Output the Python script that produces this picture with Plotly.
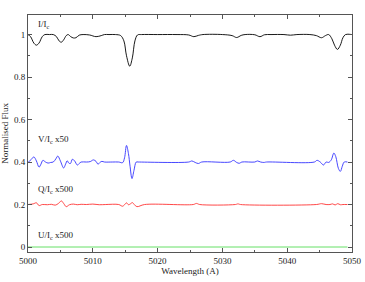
import plotly.graph_objects as go

# Stokes I / Ic
wl_i = [5000.0, 5000.4, 5000.9, 5001.3, 5001.7, 5002.2, 5002.6, 5003.3, 5003.9, 5004.4,
        5004.8, 5005.15, 5005.5, 5005.9, 5006.2, 5006.6, 5007.0, 5007.4, 5007.9, 5008.5,
        5009.5, 5010.5, 5011.3, 5011.8, 5012.5, 5013.5, 5014.3, 5014.8, 5015.2, 5015.7,
        5016.1, 5016.5, 5016.9, 5017.5, 5020.0, 5023.0, 5024.8, 5025.6, 5026.3, 5027.0,
        5030.0, 5031.5, 5032.2, 5032.9, 5033.5, 5035.0, 5035.8, 5036.5, 5037.5, 5039.5,
        5040.5, 5041.5, 5043.5, 5044.5, 5045.3, 5045.9, 5046.4, 5046.9, 5047.3, 5047.75,
        5048.2, 5048.6, 5049.0, 5050.0]
flux_i = [1.0, 0.99, 0.96, 0.95, 0.96, 0.99, 1.0, 1.0, 1.0, 0.99,
          0.97, 0.964, 0.975, 0.995, 1.0, 0.99, 0.984, 0.985, 0.997, 1.0,
          0.998, 0.99, 0.995, 1.0, 1.0, 1.0, 0.995, 0.97, 0.9, 0.851,
          0.89, 0.97, 0.998, 1.0, 1.0, 1.0, 0.998, 0.99, 0.996, 1.0,
          1.0, 0.995, 0.986, 0.996, 1.0, 0.999, 0.99, 0.999, 1.0, 1.0,
          0.997, 1.0, 1.0, 0.995, 0.985, 0.995, 1.0, 0.98, 0.95, 0.93,
          0.95, 0.985, 1.0, 1.0]

# Stokes V / Ic x50 (offset 0.4)
wl_v = [5000.0, 5000.5, 5000.9, 5001.3, 5001.7, 5002.0, 5002.3, 5002.7, 5003.1, 5003.5,
        5003.9, 5004.3, 5004.6, 5005.0, 5005.5, 5005.8, 5006.05, 5006.3, 5006.55, 5006.85,
        5007.2, 5007.6, 5007.9, 5008.2, 5009.0, 5009.6, 5010.1, 5010.5, 5010.8, 5011.1,
        5011.4, 5011.8, 5013.0, 5014.0, 5014.6, 5014.9, 5015.2, 5015.5, 5015.75, 5016.05,
        5016.35, 5016.7, 5017.0, 5024.8, 5025.3, 5025.8, 5026.3, 5026.8, 5031.2, 5031.7,
        5032.2, 5032.6, 5033.0, 5035.0, 5035.4, 5035.9, 5036.4, 5036.8, 5044.2, 5044.6,
        5045.1, 5045.6, 5046.0, 5046.4, 5046.8, 5047.2, 5047.5, 5047.9, 5048.2, 5048.5,
        5048.8, 5049.3]
flux_v = [0.398, 0.412, 0.424, 0.405, 0.376, 0.39, 0.408, 0.4, 0.395, 0.398,
          0.4, 0.415, 0.428, 0.405, 0.372, 0.39, 0.406, 0.395, 0.393, 0.413,
          0.405, 0.386, 0.393, 0.4, 0.4, 0.402, 0.41, 0.403, 0.39, 0.398,
          0.403, 0.4, 0.4, 0.4, 0.397, 0.42, 0.478, 0.44, 0.38, 0.322,
          0.36, 0.4, 0.4, 0.4, 0.405, 0.398, 0.393, 0.4, 0.4, 0.408,
          0.398, 0.394, 0.4, 0.4, 0.405, 0.4, 0.398, 0.4, 0.4, 0.408,
          0.4, 0.386, 0.4, 0.398, 0.41, 0.442, 0.425, 0.37, 0.356, 0.38,
          0.4, 0.4]

# Stokes Q / Ic x500 (offset 0.2)
wl_q = [5000.0, 5000.8, 5001.3, 5001.7, 5002.2, 5003.0, 5003.6, 5004.2, 5004.7, 5005.15,
        5005.5, 5005.9, 5006.4, 5007.0, 5007.6, 5008.2, 5009.0, 5010.0, 5011.0, 5012.0,
        5014.0, 5014.6, 5014.9, 5015.2, 5015.5, 5015.8, 5016.1, 5016.4, 5016.8, 5018.0,
        5025.5, 5026.0, 5026.5, 5032.0, 5032.4, 5032.8, 5044.5, 5045.3, 5046.0, 5046.6,
        5047.0, 5047.4, 5047.8, 5048.2, 5048.6, 5049.3]
flux_q = [0.2, 0.203, 0.208, 0.195, 0.2, 0.199, 0.201, 0.197, 0.205, 0.217,
          0.205, 0.19, 0.199, 0.202, 0.199, 0.201, 0.2, 0.202, 0.199, 0.2,
          0.2, 0.192, 0.199, 0.208, 0.199, 0.203, 0.209, 0.2, 0.19, 0.2,
          0.2, 0.205, 0.2, 0.2, 0.203, 0.2, 0.2, 0.204, 0.2, 0.2,
          0.203, 0.198, 0.204, 0.199, 0.2, 0.2]

# Stokes U / Ic x500
wl_u = [5000.0, 5049.3]
flux_u = [0.0, 0.0]

labels = ["I/I<sub>c</sub>", "V/I<sub>c</sub> x50", "Q/I<sub>c</sub> x500", "U/I<sub>c</sub> x500"]
label_y = [1.045, 0.508, 0.273, 0.052]

font = "Liberation Serif, Times New Roman, serif"
fig = go.Figure()
for x, y, c in [(wl_i, flux_i, "black"), (wl_v, flux_v, "#3333ff"),
                (wl_q, flux_q, "#ff3333"), (wl_u, flux_u, "#55dd55")]:
    fig.add_trace(go.Scatter(x=x, y=y, mode="lines",
                             line=dict(color=c, width=0.9, shape="spline", smoothing=1),
                             showlegend=False, hoverinfo="skip"))

for t, yy in zip(labels, label_y):
    fig.add_annotation(x=5001.2, y=yy, text=t, showarrow=False, xanchor="left",
                       yanchor="middle", font=dict(family=font, size=9, color="#222"))

axis_common = dict(showline=True, linecolor="#555", linewidth=1, mirror="ticks",
                   ticks="inside", ticklen=4, tickcolor="#555", showgrid=False,
                   zeroline=False, automargin=False,
                   tickfont=dict(family=font, size=9, color="#222"))
fig.update_xaxes(range=[5000, 5050], dtick=10,
                 minor=dict(dtick=5, ticks="inside", ticklen=2, tickcolor="#555"),
                 title=dict(text="Wavelength (A)", font=dict(family=font, size=9, color="#222"),
                            standoff=2),
                 **axis_common)
fig.update_yaxes(range=[-0.0235, 1.092], tickvals=[0, 0.2, 0.4, 0.6, 0.8, 1],
                 ticktext=["0", "0.2", "0.4", "0.6", "0.8", "1"],
                 minor=dict(tickvals=[0.1, 0.3, 0.5, 0.7, 0.9], ticks="inside", ticklen=2,
                            tickcolor="#555"),
                 title=dict(text="Normalised Flux", font=dict(family=font, size=9, color="#222"),
                            standoff=4),
                 **axis_common)
fig.update_layout(width=365, height=282, margin=dict(l=28, r=13, t=15, b=30),
                  plot_bgcolor="white", paper_bgcolor="white")
fig.write_html("out.html", config={"displayModeBar": False},
               post_script="document.body.style.margin='0';")
